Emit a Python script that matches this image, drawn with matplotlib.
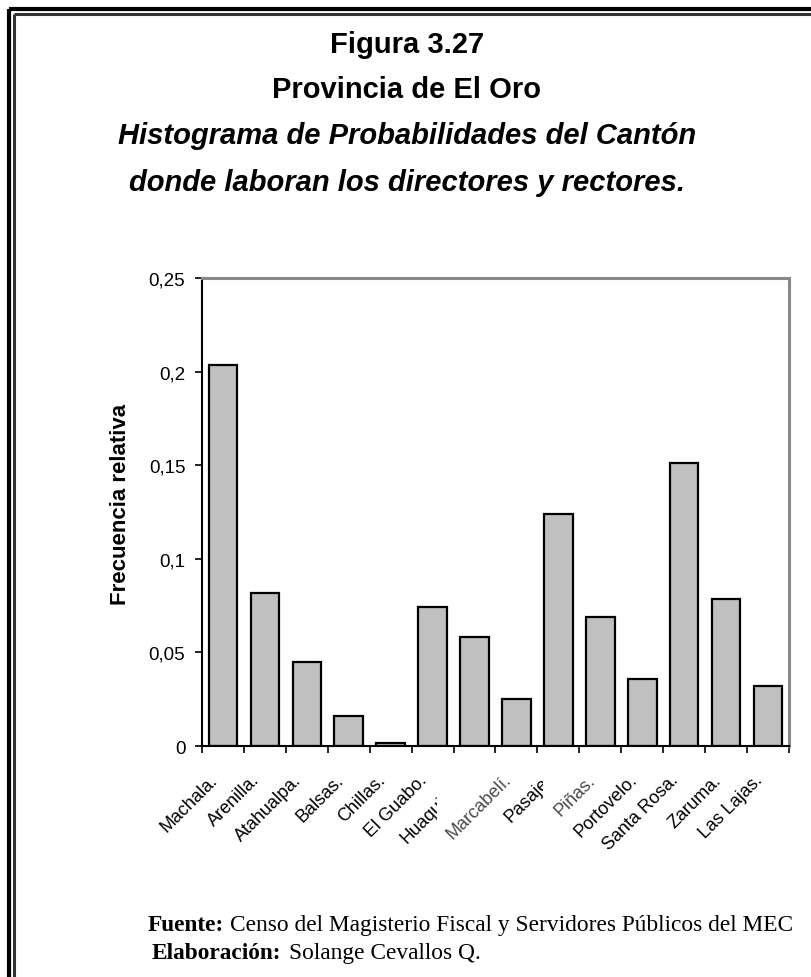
import matplotlib
matplotlib.use("Agg")
import matplotlib.pyplot as plt
import matplotlib.transforms as mtransforms
from matplotlib.lines import Line2D
import numpy as np

plt.rcParams["font.family"] = ["Liberation Sans", "DejaVu Sans"]

# Cantones y frecuencia relativa
cantones = ["Machala.", "Arenilla.", "Atahualpa.", "Balsas.", "Chillas.",
            "El Guabo.", "Huaquillas.", "Marcabelí.", "Pasaje.", "Piñas.",
            "Portovelo.", "Santa Rosa.", "Zaruma.", "Las Lajas."]
frecuencia = [0.2035, 0.0817, 0.0449, 0.0158, 0.0015, 0.0743, 0.0582,
              0.0251, 0.1240, 0.0689, 0.0358, 0.1512, 0.0785, 0.0321]
yticks = [0, 0.05, 0.1, 0.15, 0.2, 0.25]
ytick_labels = ["0", "0,05", "0,1", "0,15", "0,2", "0,25"]

W, H = 812, 978
fig = plt.figure(figsize=(W / 100, H / 100), dpi=100)

def px(x, y):
    # pixel coords (origin top-left) -> figure fraction
    return x / W, 1 - y / H

# double frame on the left and top
for off, lw, col in [(9.5, 3.0, "black"), (14.5, 2.2, "#333333")]:
    fig.add_artist(Line2D([off / W, off / W], [0, 1 - off / H], lw=lw, color=col,
                          transform=fig.transFigure, solid_capstyle="butt"))
    fig.add_artist(Line2D([off / W, 1], [1 - off / H, 1 - off / H], lw=lw, color=col,
                          transform=fig.transFigure, solid_capstyle="butt"))

# titles
title_kw = dict(ha="center", va="center", fontsize=21, fontweight="bold")
fig.text(*px(407, 45), "Figura 3.27", **title_kw)
fig.text(*px(407, 90), "Provincia de El Oro", **title_kw)
fig.text(*px(407, 136), "Histograma de Probabilidades del Cantón",
         style="italic", **title_kw)
fig.text(*px(407, 183), "donde laboran los directores y rectores.",
         style="italic", **title_kw)

# axes
x0, y0 = px(202, 747)
x1, y1 = px(789, 279)
ax = fig.add_axes([x0, y0, x1 - x0, y1 - y0])
pos = np.arange(len(cantones))
ax.bar(pos, frecuencia, width=0.68, color="#c0c0c0", edgecolor="black",
       linewidth=1.6, zorder=2)
ax.set_xlim(-0.5, len(cantones) - 0.5)
ax.set_ylim(0, 0.25)
ax.set_yticks(yticks)
ax.set_yticklabels(ytick_labels, fontsize=13.5)
ax.tick_params(axis="y", direction="out", length=5, width=1.2, pad=7)
ax.set_xticks(np.arange(len(cantones) + 1) - 0.5)
ax.set_xticklabels([])
ax.tick_params(axis="x", direction="out", length=5, width=1.2)
for side in ["left", "bottom"]:
    ax.spines[side].set_color("black")
    ax.spines[side].set_linewidth(1.5)
for side in ["top", "right"]:
    ax.spines[side].set_color("#888888")
    ax.spines[side].set_linewidth(2.2)
fig.text(*px(120, 504), "Frecuencia relativa", rotation=90, ha="center",
         va="center", fontsize=16, fontweight="bold")

# rotated category labels; two of them are partly hidden
clip_px = {"Huaquillas.": (0, 437), "Pasaje.": (0, 543)}
label_color = {"Marcabelí.": "#4a4a4a", "Piñas.": "#4a4a4a"}
base = mtransforms.blended_transform_factory(ax.transData, ax.transAxes)
shift = mtransforms.ScaledTranslation(-8 / 100, -31 / 100, fig.dpi_scale_trans)
for i, name in enumerate(cantones):
    t = ax.text(i, 0, name, rotation=45, rotation_mode="anchor", ha="right",
                va="center", fontsize=13, color=label_color.get(name, "black"),
                transform=base + shift, clip_on=False)
    if name in clip_px:
        a, b = clip_px[name]
        bb = mtransforms.Bbox.from_extents(a / W, 0, b / W, 1)
        t.set_clip_box(mtransforms.TransformedBbox(bb, fig.transFigure))
        t.set_clip_on(True)

# source notes
note_kw = dict(fontsize=16.8, family="Liberation Serif", va="baseline")
fig.text(*px(148, 931), "Fuente:", fontweight="bold", **note_kw)
fig.text(*px(230, 931), "Censo del Magisterio Fiscal y Servidores Públicos del MEC",
         **note_kw)
fig.text(*px(152, 959), "Elaboración:", fontweight="bold", **note_kw)
fig.text(*px(289, 959), "Solange Cevallos Q.", **note_kw)

fig.savefig("out.png", dpi=100)
